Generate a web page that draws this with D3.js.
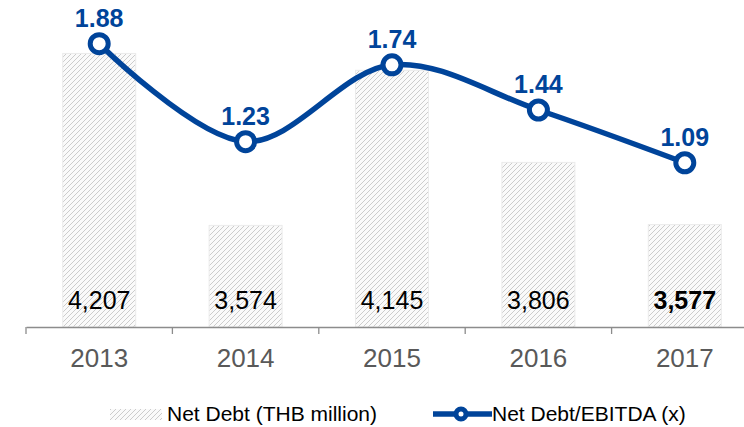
<!DOCTYPE html>
<html><head><meta charset="utf-8">
<script src="https://cdn.jsdelivr.net/npm/d3@7"></script>
<style>body{margin:0;background:#fff}svg{display:block}</style>
</head><body>
<svg id="c" width="744" height="427"></svg>
<script>
const years = ["2013","2014","2015","2016","2017"];
const netDebt = [4207, 3574, 4145, 3806, 3577];
const ratio = [1.88, 1.23, 1.74, 1.44, 1.09];
const debtLabels = ["4,207","3,574","4,145","3,806","3,577"];
const ratioLabels = ["1.88","1.23","1.74","1.44","1.09"];

const svg = d3.select("#c");
const blue = "#00449A";
const font = "Arial, 'Liberation Sans', sans-serif";

const defs = svg.append("defs");
const pat = defs.append("pattern").attr("id","hatch").attr("patternUnits","userSpaceOnUse")
  .attr("width",5).attr("height",5);
pat.append("rect").attr("width",5).attr("height",5).attr("fill","#fafafa");
pat.append("path").attr("d","M-1,1 l2,-2 M0,5 l5,-5 M4,6 l2,-2").attr("stroke","#cccccc").attr("stroke-width",1);

const x = d3.scaleBand().domain(years).range([26, 26 + 5*146.4]).paddingInner(0).paddingOuter(0);
const yBar = d3.scaleLinear().domain([3200, 4400]).range([327, 1]);
const yLine = d3.scaleLinear().domain([0, 2.17]).range([327, 0]);
const bw = 73;

// bars
svg.selectAll("rect.bar").data(netDebt).join("rect").attr("class","bar")
  .attr("x",(d,i)=>x(years[i]) + x.bandwidth()/2 - bw/2)
  .attr("y",d=>yBar(d)).attr("width",bw).attr("height",d=>yBar(3200)-yBar(d))
  .attr("fill","url(#hatch)").attr("stroke","#ebebeb").attr("stroke-width",1);

// bar labels
svg.selectAll("text.dl").data(debtLabels).join("text").attr("class","dl")
  .attr("x",(d,i)=>x(years[i]) + x.bandwidth()/2).attr("y",309)
  .attr("text-anchor","middle").attr("font-family",font).attr("font-size",25)
  .attr("font-weight",(d,i)=>i===4?"bold":"normal").attr("fill","#000").text(d=>d);

// x axis
const axis = d3.axisBottom(x).tickSize(0).tickSizeOuter(0).tickFormat(d=>d);
const ag = svg.append("g").attr("transform","translate(0,327)").call(axis);
ag.select(".domain").attr("stroke","#8c8c8c").attr("stroke-width",1.3);
ag.selectAll(".tick text").attr("font-family",font).attr("font-size",26).attr("fill","#595959").attr("dy","0").attr("y",40);
// boundary ticks
svg.selectAll("line.bt").data(d3.range(6)).join("line").attr("class","bt")
  .attr("x1",i=>26+i*146.4).attr("x2",i=>26+i*146.4).attr("y1",327).attr("y2",334)
  .attr("stroke","#8c8c8c").attr("stroke-width",1.3);

// line
const pts = ratio.map((v,i)=>[x(years[i])+x.bandwidth()/2, yLine(v)]);
svg.append("path").attr("d", d3.line().curve(d3.curveCatmullRom.alpha(0.5))(pts))
  .attr("fill","none").attr("stroke",blue).attr("stroke-width",5.5);
svg.selectAll("circle.m").data(pts).join("circle").attr("class","m")
  .attr("cx",d=>d[0]).attr("cy",d=>d[1]).attr("r",9)
  .attr("fill","#fff").attr("stroke",blue).attr("stroke-width",5);
svg.selectAll("text.rl").data(ratioLabels).join("text").attr("class","rl")
  .attr("x",(d,i)=>pts[i][0]).attr("y",(d,i)=>pts[i][1]-17)
  .attr("text-anchor","middle").attr("font-family",font).attr("font-size",25)
  .attr("font-weight","bold").attr("fill",blue).text(d=>d);

// legend
const lg = svg.append("g");
lg.append("rect").attr("x",110).attr("y",409).attr("width",52).attr("height",11).attr("fill","url(#hatch)");
lg.append("text").attr("x",167).attr("y",421).attr("font-family",font).attr("font-size",21).attr("fill","#000").text("Net Debt (THB million)");
lg.append("line").attr("x1",433).attr("x2",492).attr("y1",414).attr("y2",414).attr("stroke",blue).attr("stroke-width",5.5);
lg.append("circle").attr("cx",461).attr("cy",414).attr("r",5).attr("fill","#fff").attr("stroke",blue).attr("stroke-width",5);
lg.append("text").attr("x",492).attr("y",421).attr("font-family",font).attr("font-size",21).attr("fill","#000").text("Net Debt/EBITDA (x)");
</script>
</body></html>
